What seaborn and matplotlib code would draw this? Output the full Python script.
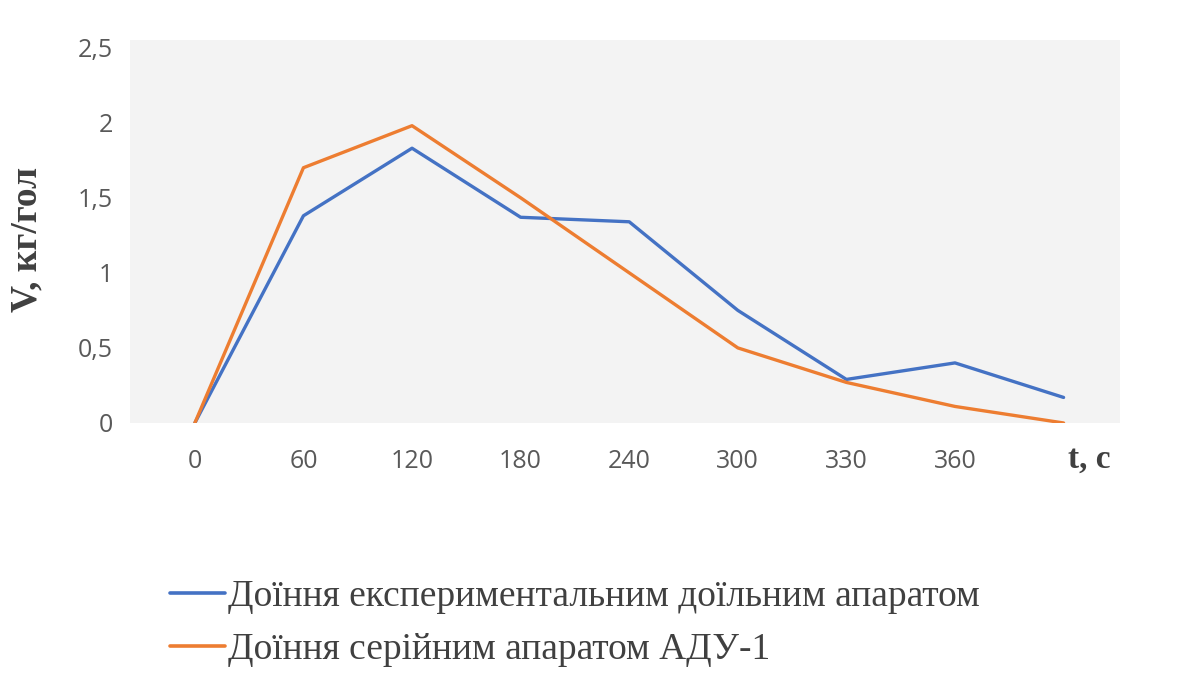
import matplotlib
matplotlib.use("Agg")
import matplotlib.pyplot as plt
import seaborn as sns
import pandas as pd

# Milk flow rate over time for two milking machines
time_labels = ["0", "60", "120", "180", "240", "300", "330", "360", ""]
experimental = [0.0, 1.38, 1.83, 1.37, 1.34, 0.75, 0.29, 0.40, 0.17]
serial_adu1 = [0.0, 1.70, 1.98, 1.50, 1.00, 0.50, 0.27, 0.11, 0.0]
series_names = ["Доїння експериментальним доїльним апаратом",
                "Доїння серійним апаратом АДУ-1"]
y_ticks = [0, 0.5, 1, 1.5, 2, 2.5]

rows = []
for name, values in zip(series_names, [experimental, serial_adu1]):
    for i, v in enumerate(values):
        rows.append({"t": i, "V": v, "series": name})
df = pd.DataFrame(rows)

sns.set_theme(style="white")
plt.rcParams["font.family"] = ["Open Sans", "DejaVu Sans"]

fig = plt.figure(figsize=(11.79, 6.8), dpi=100)
ax = fig.add_axes([0.110, 0.378, 0.840, 0.563])
ax.set_facecolor("#f3f3f3")

palette = {series_names[0]: "#4472C4", series_names[1]: "#ED7D31"}
sns.lineplot(data=df, x="t", y="V", hue="series", palette=palette,
             linewidth=2.4, ax=ax, legend=False, sort=False)

ax.set_xlim(-0.6, 8.52)
ax.set_ylim(0, 2.55)
ax.set_xticks(range(len(time_labels)))
ax.set_xticklabels(time_labels)
ax.set_yticks(y_ticks)
ax.set_yticklabels([f"{v:g}".replace(".", ",") for v in y_ticks])
ax.tick_params(axis="x", length=0, pad=19, labelsize=18, labelcolor="#595959")
ax.tick_params(axis="y", length=0, pad=12, labelsize=18, labelcolor="#595959")
for s in ax.spines.values():
    s.set_visible(False)
ax.set_xlabel("")
ax.set_ylabel("")

serif_bold = dict(family="Liberation Serif", fontweight="bold", color="#404040")
fig.text(27 / 1179, 1 - 239 / 680, "V, кг/гол", rotation=90,
         ha="center", va="center", fontsize=27, **serif_bold)

# time axis title sits where the last category label would be
ax.text(8.24, -0.30, "t, с", fontsize=24, ha="center", va="baseline",
        clip_on=False, **serif_bold)

handles = [plt.Line2D([], [], color=palette[n], linewidth=2.6) for n in series_names]
fig.legend(handles, series_names, loc="upper left",
           bbox_to_anchor=(0.1155, 0.197), frameon=False,
           prop={"family": "Liberation Serif", "size": 27},
           handlelength=1.47, handletextpad=0.08, labelspacing=0.48,
           labelcolor="#404040")

fig.savefig("out.png", dpi=100, facecolor="white")
